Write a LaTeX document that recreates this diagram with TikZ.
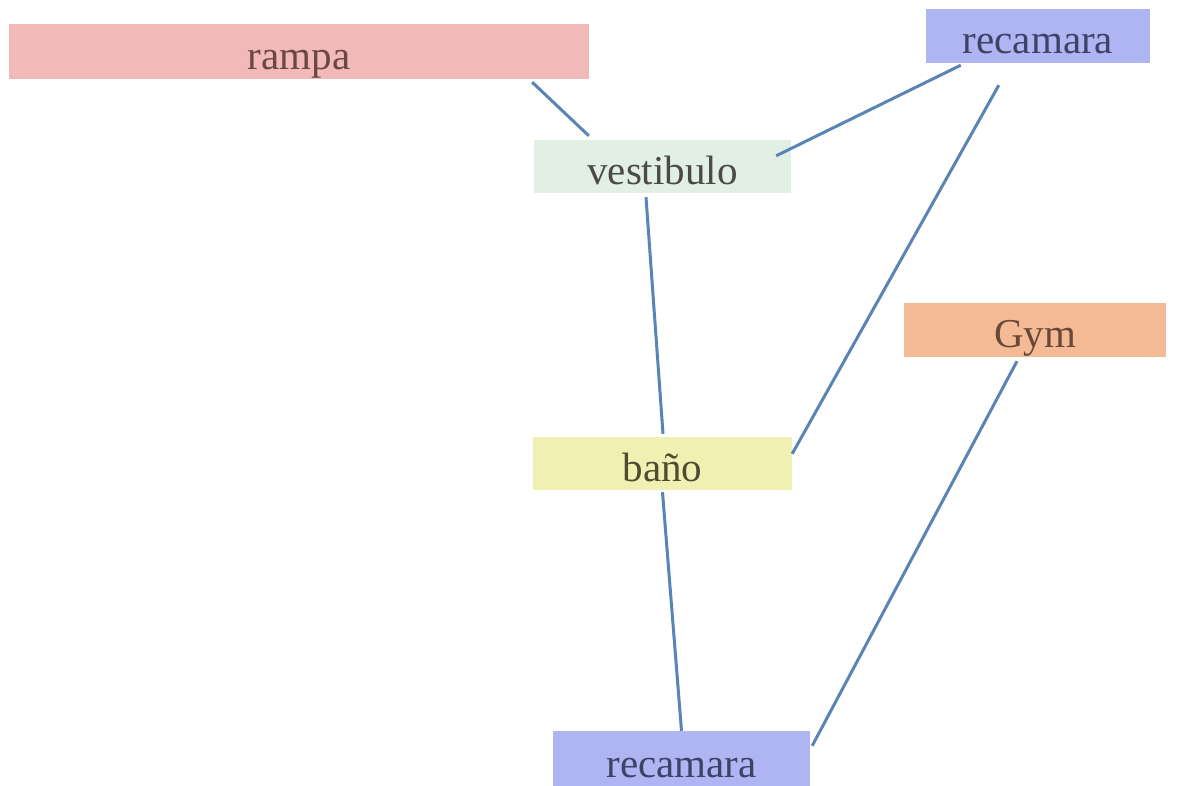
\documentclass[tikz,border=0pt]{standalone}
\usepackage{fontspec}
\setmainfont{Liberation Serif}
\definecolor{cpink}{HTML}{F2B9B9}
\definecolor{clav}{HTML}{AFB5F2}
\definecolor{cgreen}{HTML}{E2EFE5}
\definecolor{corange}{HTML}{F4BA95}
\definecolor{cyellow}{HTML}{F1F0B3}
\definecolor{cline}{HTML}{5A84B6}
\definecolor{ctxt}{HTML}{4A4A4A}
\definecolor{ctxtred}{HTML}{6A4646}
\definecolor{ctxtblue}{HTML}{3E4266}
\definecolor{ctxtbrown}{HTML}{6A4838}
\definecolor{ctxtolive}{HTML}{4E4B30}
\begin{document}
\begin{tikzpicture}[x=1pt,y=-1pt,
  room/.style={rectangle, inner sep=0pt, text height=36pt, text depth=0pt,
    font=\fontsize{41}{41}\selectfont, text=ctxt},
  link/.style={draw=cline, line width=3pt}]
\useasboundingbox (0,0) rectangle (1179,786);
\fill[white] (0,0) rectangle (1179,786);
\node[room, fill=cpink, text=ctxtred, minimum width=580pt, minimum height=55pt] (rampa) at (299,51.5) {rampa};
\node[room, fill=clav, text=ctxtblue, minimum width=224pt, minimum height=54pt] (recT) at (1038,36) {recamara};
\node[room, fill=cgreen, minimum width=257pt, minimum height=53pt] (vest) at (662.5,166.5) {vestibulo};
\node[room, fill=corange, text=ctxtbrown, minimum width=262pt, minimum height=54pt] (gym) at (1035,330) {Gym};
\node[room, fill=cyellow, text=ctxtolive, minimum width=259pt, minimum height=53pt] (bano) at (662.5,463.5) {baño};
\node[room, fill=clav, text=ctxtblue, minimum width=257pt, minimum height=56pt] (recB) at (681.5,759) {recamara};
\draw[link] ([xshift=-57pt,yshift=-3pt]rampa.south east) -- ([xshift=55pt,yshift=4pt]vest.north west);
\draw[link] ([xshift=35pt,yshift=-2pt]recT.south west) -- ([xshift=-15pt,yshift=-16pt]vest.north east);
\draw[link] ([xshift=73pt,yshift=-22pt]recT.south west) -- ([yshift=-17pt]bano.north east);
\draw[link] ([xshift=-16.5pt,yshift=-4pt]vest.south) -- ([xshift=0.5pt,yshift=3pt]bano.north);
\draw[link] ([yshift=-2pt]bano.south) -- (recB.north);
\draw[link] ([xshift=-18pt,yshift=-4pt]gym.south) -- ([xshift=2pt,yshift=-15pt]recB.north east);
\end{tikzpicture}
\end{document}
